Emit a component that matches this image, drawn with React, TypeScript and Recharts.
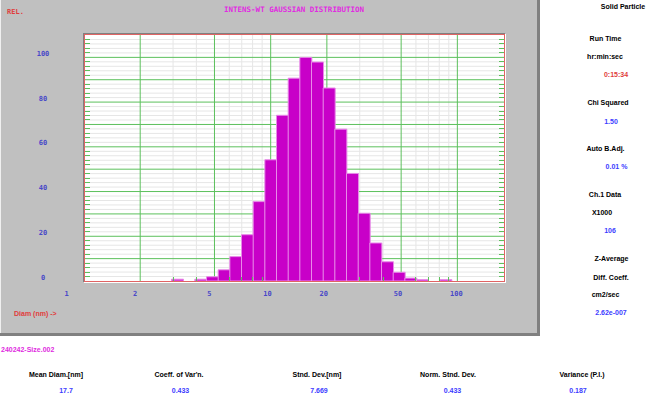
import { ComposedChart, Bar, XAxis, YAxis, CartesianGrid } from 'recharts';

// bin centres (nm), 16 bins per decade, and normalised intensity
const BIN_DIAM = [3.162, 3.652, 4.217, 4.87, 5.623, 6.494, 7.499, 8.66, 10.0, 11.548, 13.335, 15.399, 17.783, 20.535, 23.714, 27.384, 31.623, 36.517, 42.17, 48.697, 56.234, 64.938, 74.989, 86.596];
const INTENSITY = [0.8, 0, 0.8, 1.9, 5.0, 10.9, 20.7, 35.5, 54.2, 74.1, 90.7, 100, 97.9, 86.3, 67.9, 48.1, 30.3, 17.0, 8.6, 3.9, 1.3, 0.6, 0, 0.6];

const X_LABELS = [1, 2, 5, 10, 20, 50, 100];
const X_MAJOR_LINES = [2, 5, 10, 20, 50, 100];
const X_MINOR = [3, 4, 6, 7, 8, 9, 30, 40, 60, 70, 80, 90];
const X_TICKS = [1, 2, 3, 4, 5, 6, 7, 8, 9, 10, 20, 30, 40, 50, 60, 70, 80, 90, 100];

const Y_LABELS = [0, 20, 40, 60, 80, 100];
const Y_MAJOR = [10, 20, 30, 40, 50, 60, 70, 80, 90, 100];
const Y_MINOR = [2, 4, 6, 8, 12, 14, 16, 18, 22, 24, 26, 28, 32, 34, 36, 38, 42, 44, 46, 48, 52, 54, 56, 58, 62, 64, 66, 68, 72, 74, 76, 78, 82, 84, 86, 88, 92, 94, 96, 98, 102, 104, 106, 108];
const Y_TICKS = [0, ...Y_MINOR, ...Y_MAJOR].sort((a, b) => a - b);

const SIDE_INFO = [
  { label: 'Solid Particle', x: 623, y: 6 },
  { label: 'Run Time', x: 605.5, y: 38 },
  { label: 'hr:min:sec', x: 605, y: 56 },
  { label: '0:15:34', x: 616, y: 74, color: '#e03c3c' },
  { label: 'Chi Squared', x: 608, y: 102 },
  { label: '1.50', x: 611, y: 120.5, color: '#3c3cff' },
  { label: 'Auto B.Adj.', x: 605.5, y: 147.5 },
  { label: '0.01 %', x: 616.5, y: 166, color: '#3c3cff' },
  { label: 'Ch.1 Data', x: 605, y: 193.5 },
  { label: 'X1000', x: 602, y: 212 },
  { label: '106', x: 610, y: 230, color: '#3c3cff' },
  { label: 'Z-Average', x: 611.5, y: 257.5 },
  { label: 'Diff. Coeff.', x: 611, y: 276.5 },
  { label: 'cm2/sec', x: 605.5, y: 294 },
  { label: '2.62e-007', x: 611, y: 312, color: '#3c3cff' },
];

const STAT_LABELS = ['Mean Diam.[nm]', "Coeff. of Var'n.", 'Stnd. Dev.[nm]', 'Norm. Stnd. Dev.', 'Variance (P.I.)'];
const STAT_VALUES = ['17.7', '0.433', '7.669', '0.433', '0.187'];
const STAT_LABEL_X = [56, 179, 317, 448, 582];
const STAT_VALUE_X = [66, 180.5, 319, 452.5, 578];

const GREEN = '#5cc05c';
const GRID_GRAY = '#e6e6e6';
const AXIS_BLUE = '#4848c8';
const MAGENTA = '#e02ce0';
const MONO = '"DejaVu Sans Mono", monospace';
const SANS = '"Liberation Sans", Arial, sans-serif';

const data = BIN_DIAM.map((d, i) => ({ d, v: INTENSITY[i] }));

const Txt = ({ x, y, color = '#000', size = 7, family = SANS, anchor = 'middle', children }: any) => (
  <div
    style={{
      position: 'absolute',
      left: x,
      top: y,
      transform: `translate(${anchor === 'middle' ? '-50%' : '0'}, -50%)`,
      color,
      fontSize: size,
      fontWeight: 'bold',
      fontFamily: family,
      whiteSpace: 'nowrap',
      lineHeight: 1,
    }}
  >
    {children}
  </div>
);

const LeftTick = (props: any) => {
  const { x, y, payload } = props;
  const v = payload.value;
  return (
    <g>
      {v % 10 !== 0 && <line x1={x} x2={x + 6} y1={y} y2={y} stroke={GREEN} shapeRendering="crispEdges" />}
      {Y_LABELS.includes(v) && (
        <text x={x - 41} y={y - 3.5} textAnchor="middle" dominantBaseline="central" fill={AXIS_BLUE} fontSize={7} fontWeight="bold" fontFamily={MONO}>
          {v}
        </text>
      )}
    </g>
  );
};

const RightTick = (props: any) => {
  const { x, y, payload } = props;
  if (payload.value % 10 === 0) return <g />;
  return <line x1={x} x2={x - 6} y1={y} y2={y} stroke={GREEN} shapeRendering="crispEdges" />;
};

const BottomTick = (props: any) => {
  const { x, y, payload } = props;
  const v = payload.value;
  if (X_LABELS.includes(v)) {
    return (
      <text x={x + (v === 1 ? -19.4 : -7.3)} y={y + 12.7} textAnchor="start" dominantBaseline="central" fill={AXIS_BLUE} fontSize={7} fontWeight="bold" fontFamily={MONO}>
        {v}
      </text>
    );
  }
  return <line x1={x} x2={x} y1={y} y2={y - 4} stroke={GREEN} shapeRendering="crispEdges" />;
};

const TopTick = (props: any) => {
  const { x, y, payload } = props;
  if (X_LABELS.includes(payload.value)) return <g />;
  return <line x1={x} x2={x} y1={y} y2={y + 4} stroke={GREEN} shapeRendering="crispEdges" />;
};

export default function App() {
  return (
    <div style={{ position: 'absolute', left: 0, top: 0, width: 660, height: 397, background: '#fff', overflow: 'hidden' }}>
      {/* grey panel with shadow */}
      <div style={{ position: 'absolute', left: 0, top: 0, width: 540, height: 336, background: '#808080' }} />
      <div style={{ position: 'absolute', left: 0, top: 0, width: 537, height: 333, background: '#c0c0c0', borderLeft: '1px solid #f0f0f0', boxSizing: 'border-box' }} />

      {/* plot frame */}
      <div style={{ position: 'absolute', left: 83, top: 33, width: 423, height: 250, boxSizing: 'border-box', borderLeft: '1px solid #808080', borderTop: '1px solid #808080', borderRight: '1px solid #fff', borderBottom: '1px solid #fff' }} />
      <div style={{ position: 'absolute', left: 84, top: 35, width: 421, height: 246, background: '#fff' }} />

      <div style={{ position: 'absolute', left: 0, top: 0 }}>
        <ComposedChart width={540} height={336} data={data} margin={{ top: 34, right: 34, bottom: 25, left: 0 }} barCategoryGap={0} barGap={0}>
          <CartesianGrid horizontal={false} verticalValues={X_MINOR} stroke={GRID_GRAY} />
          <CartesianGrid vertical={false} horizontalValues={Y_MINOR} stroke={GRID_GRAY} />
          <CartesianGrid horizontal={false} verticalValues={X_MAJOR_LINES} stroke={GREEN} />
          <CartesianGrid vertical={false} horizontalValues={Y_MAJOR} stroke={GREEN} />
          <XAxis dataKey="d" type="number" scale="log" domain={[1, 180]} ticks={X_TICKS} interval={0} allowDataOverflow axisLine={false} tickLine={false} tickSize={0} tickMargin={0} height={30} tick={BottomTick} />
          <XAxis xAxisId="top" orientation="top" type="number" scale="log" domain={[1, 180]} ticks={X_TICKS} interval={0} allowDataOverflow axisLine={false} tickLine={false} tickSize={0} tickMargin={0} height={1} tick={TopTick} />
          <YAxis type="number" domain={[0, 110]} ticks={Y_TICKS} interval={0} allowDataOverflow axisLine={false} tickLine={false} tickSize={0} tickMargin={0} width={84} tick={LeftTick} />
          <YAxis yAxisId="right" orientation="right" type="number" domain={[0, 110]} ticks={Y_TICKS} interval={0} allowDataOverflow axisLine={false} tickLine={false} tickSize={0} tickMargin={0} width={1} tick={RightTick} />
          <Bar dataKey="v" fill="#c800c8" stroke="#e88ae8" strokeWidth={1} isAnimationActive={false} />
        </ComposedChart>
      </div>

      <div style={{ position: 'absolute', left: 84, top: 34, width: 421, height: 248, boxSizing: 'border-box', border: '1px solid #e06464', pointerEvents: 'none' }} />

      <Txt x={7} y={11.7} color="#e03c3c" family={MONO} anchor="start">REL.</Txt>
      <Txt x={294} y={10} color={MAGENTA} family={MONO} size={7.5}>INTENS-WT GAUSSIAN DISTRIBUTION</Txt>
      <Txt x={14} y={312.5} color="#e03c3c" anchor="start">Diam (nm) -&gt;</Txt>

      {SIDE_INFO.map((s) => (
        <Txt key={s.label} x={s.x} y={s.y} color={s.color || '#000'}>{s.label}</Txt>
      ))}

      <Txt x={1} y={349} color={MAGENTA} anchor="start">240242-Size.002</Txt>
      {STAT_LABELS.map((l, i) => (
        <Txt key={l} x={STAT_LABEL_X[i]} y={374}>{l}</Txt>
      ))}
      {STAT_VALUES.map((v, i) => (
        <Txt key={i} x={STAT_VALUE_X[i]} y={390} color="#3c3cff">{v}</Txt>
      ))}
    </div>
  );
}
